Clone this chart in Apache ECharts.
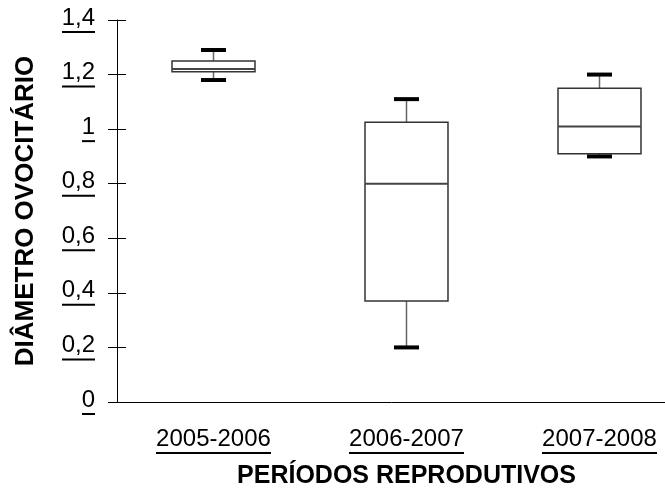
<!DOCTYPE html>
<html lang="pt">
<head>
<meta charset="UTF-8">
<title>Diâmetro ovocitário</title>
<script src="https://cdn.jsdelivr.net/npm/echarts@6/dist/echarts.min.js"></script>
<style>
  html, body { margin: 0; padding: 0; background: #fff; }
  #main { width: 665px; height: 496px; }
</style>
</head>
<body>
<div id="main"></div>
<script>
// dados
const periodos = ['2005-2006', '2006-2007', '2007-2008'];
const minimo  = [1.18, 0.20, 0.90];
const q1      = [1.21, 0.37, 0.91];
const mediana = [1.22, 0.80, 1.01];
const q3      = [1.25, 1.025, 1.15];
const maximo  = [1.29, 1.11, 1.20];
const yTickLabels = ['0', '0,2', '0,4', '0,6', '0,8', '1', '1,2', '1,4'];

const FONT = "'Liberation Sans', Arial, sans-serif";
const FS = 24;

// largura do texto para fazer o sublinhado
const ctx = document.createElement('canvas').getContext('2d');
ctx.font = FS + "px 'Liberation Sans'";
function larg(s) { return Math.round(ctx.measureText(s).width); }

function richSub(labels) {
  const rich = { t: { fontSize: FS, fontFamily: FONT, color: '#000', lineHeight: 24 } };
  labels.forEach((s, i) => {
    rich['u' + i] = { width: larg(s), height: 2, lineHeight: 4, backgroundColor: '#000' };
  });
  return rich;
}

const dados = periodos.map((p, i) => [i, minimo[i], q1[i], mediana[i], q3[i], maximo[i]]);

var grafico = echarts.init(document.getElementById('main'));

var option = {
  animation: false,
  grid: { left: 117, top: 20, width: 579, height: 382, outerBoundsMode: 'none', containLabel: false },
  xAxis: [
    {
      type: 'category',
      data: periodos,
      boundaryGap: true,
      axisLine: { lineStyle: { color: '#000', width: 1 } },
      axisTick: { length: 8, lineStyle: { color: '#000', width: 1.2 } },
      axisLabel: {
        margin: 25,
        formatter: function (v) {
          const i = periodos.indexOf(v);
          return '{t|' + v + '}\n{u' + i + '|}';
        },
        rich: richSub(periodos)
      },
      name: 'PERÍODOS REPRODUTIVOS',
      nameLocation: 'middle',
      nameGap: 62,
      nameTextStyle: { fontSize: 25, fontWeight: 'bold', fontFamily: FONT, color: '#000' }
    },
    {
      type: 'category',
      data: periodos,
      position: 'bottom',
      boundaryGap: true,
      axisLine: { show: false },
      axisTick: { inside: true, length: 8, lineStyle: { color: '#000', width: 1.2 } },
      axisLabel: { show: false }
    }
  ],
  yAxis: [
    {
      type: 'value',
      min: 0, max: 1.4, interval: 0.2,
      splitLine: { show: false },
      axisLine: { show: true, lineStyle: { color: '#000', width: 1 } },
      axisTick: { show: true, length: 9, lineStyle: { color: '#000' } },
      axisLabel: {
        margin: 22,
        formatter: function (v, idx) {
          return '{t|' + yTickLabels[idx] + '}\n{u' + idx + '|}';
        },
        rich: richSub(yTickLabels)
      },
      name: 'DIÂMETRO OVOCITÁRIO',
      nameLocation: 'middle',
      nameRotate: 90,
      nameGap: 78,
      nameTextStyle: { fontSize: 26, fontWeight: 'bold', fontFamily: FONT, color: '#000' }
    },
    {
      type: 'value',
      min: 0, max: 1.4, interval: 0.2,
      position: 'left',
      splitLine: { show: false },
      axisLine: { show: false },
      axisTick: { show: true, inside: true, length: 9, lineStyle: { color: '#000' } },
      axisLabel: { show: false }
    }
  ],
  series: [
    {
      type: 'custom',
      xAxisIndex: 0,
      yAxisIndex: 0,
      data: dados,
      encode: { x: 0, y: [1, 2, 3, 4, 5] },
      renderItem: function (params, api) {
        const x = api.value(0);
        const pMin = api.coord([x, api.value(1)]);
        const pQ1 = api.coord([x, api.value(2)]);
        const pMed = api.coord([x, api.value(3)]);
        const pQ3 = api.coord([x, api.value(4)]);
        const pMax = api.coord([x, api.value(5)]);
        const bw = api.size([1, 0])[0] * 0.43;
        const cw = 25;
        const cx = pMed[0];
        return {
          type: 'group',
          children: [
            { type: 'line', shape: { x1: cx, y1: pQ3[1], x2: cx, y2: pMax[1] },
              style: { stroke: '#666', lineWidth: 1.5 } },
            { type: 'line', shape: { x1: cx, y1: pQ1[1], x2: cx, y2: pMin[1] },
              style: { stroke: '#666', lineWidth: 1.5 } },
            { type: 'rect', shape: { x: cx - bw / 2, y: pQ3[1], width: bw, height: pQ1[1] - pQ3[1] },
              style: { fill: '#fff', stroke: '#333', lineWidth: 1.5 } },
            { type: 'line', shape: { x1: cx - bw / 2, y1: pMed[1], x2: cx + bw / 2, y2: pMed[1] },
              style: { stroke: '#444', lineWidth: 2 } },
            { type: 'line', shape: { x1: cx - cw / 2, y1: pMax[1], x2: cx + cw / 2, y2: pMax[1] },
              style: { stroke: '#000', lineWidth: 4 } },
            { type: 'line', shape: { x1: cx - cw / 2, y1: pMin[1], x2: cx + cw / 2, y2: pMin[1] },
              style: { stroke: '#000', lineWidth: 4 } }
          ]
        };
      }
    }
  ]
};

grafico.setOption(option);
</script>
</body>
</html>
